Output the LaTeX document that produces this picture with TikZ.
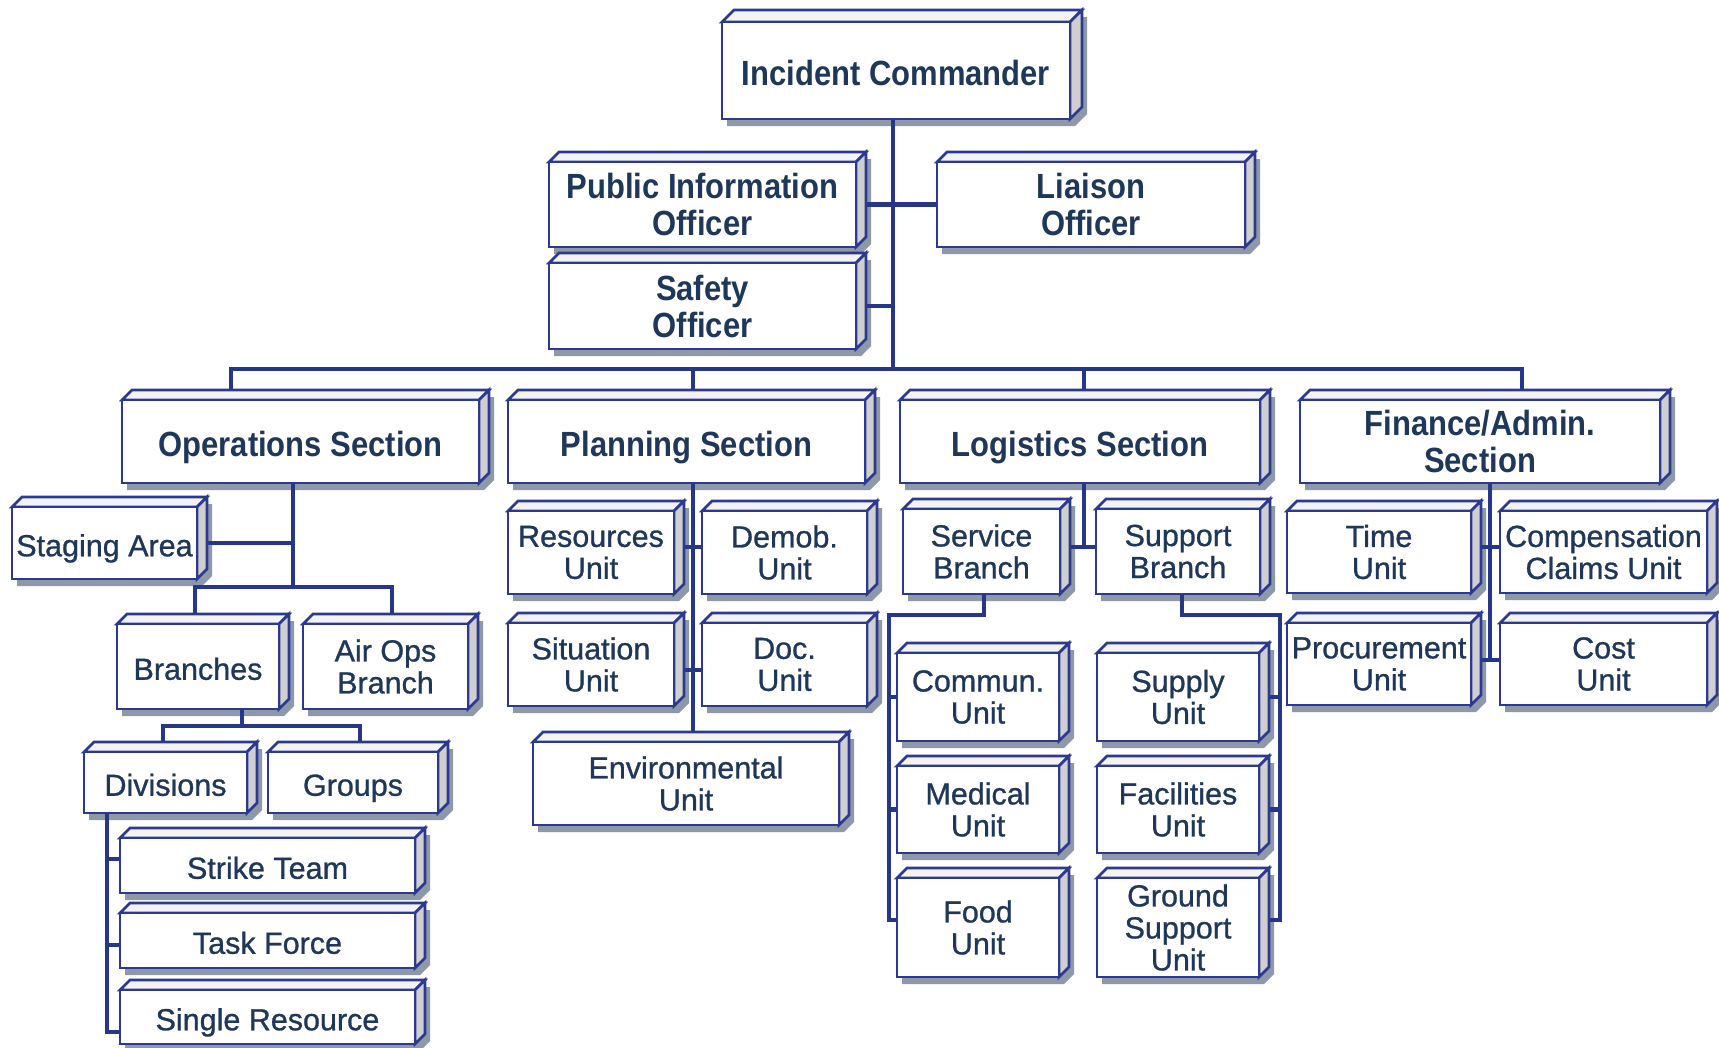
\documentclass[tikz,border=0pt]{standalone}
\usepackage{fontspec}
\usetikzlibrary{calc}
\newfontfamily\bigf[FakeStretch=0.885]{Liberation Sans Bold}
\newfontfamily\smallf[FakeBold=0.9]{Liberation Sans}
\definecolor{navy}{HTML}{2B3990}
\definecolor{linec}{HTML}{26378A}
\definecolor{txt}{HTML}{1F3859}
\definecolor{topc}{HTML}{F3F3F5}
\definecolor{sidec}{HTML}{CFCFCF}
\definecolor{shadc}{HTML}{8D98A9}
\pgfdeclarelayer{shadowlayer}
\pgfdeclarelayer{connlayer}
\pgfsetlayers{shadowlayer,connlayer,main}
\tikzset{
  boxline/.style={draw=navy, line width=2.6pt, line join=miter},
  topface/.style={boxline, fill=topc},
  sideface/.style={boxline, fill=sidec},
  frontbox/.style={boxline, fill=white, rectangle, inner sep=0pt, outer sep=0pt, text=txt, align=center},
  bigtext/.style={font=\bigf\fontsize{35}{37}\selectfont},
  smalltext/.style={font=\smallf\fontsize{30.5}{32}\selectfont},
  onebig/.style={bigtext, text height=33pt, text depth=3pt},
  onesmall/.style={smalltext, text height=29.5pt, text depth=3pt},
  conn/.style={draw=linec, line width=4.2pt},
}
% #1 depth, #2 name, #3 x1, #4 y1, #5 x2, #6 y2, #7 style, #8 text
\newcommand\isobox[8][10]{%
  \begin{pgfonlayer}{shadowlayer}
    \fill[shadc] ({#3+5},{#6+7}) -- ({#3+5},{#4+7}) -- ({#3+#1+5},{#4-#1+7}) -- ({#5+#1+5},{#4-#1+7}) -- ({#5+#1+5},{#6-#1+7}) -- ({#5+5},{#6+7}) -- cycle;
  \end{pgfonlayer}
  \path[topface] (#3,#4) -- ({#3+#1},{#4-#1}) -- ({#5+#1},{#4-#1}) -- (#5,#4) -- cycle;
  \path[sideface] (#5,#4) -- ({#5+#1},{#4-#1}) -- ({#5+#1},{#6-#1}) -- (#5,#6) -- cycle;
  \pgfmathsetmacro\cw{#5-#3}\pgfmathsetmacro\ch{#6-#4}%
  \node[frontbox,#7,minimum width=\cw pt,minimum height=\ch pt] (#2) at ({(#3+#5)/2},{(#4+#6)/2}) {#8};
}
\begin{document}
\begin{tikzpicture}[x=1pt,y=-1pt]
\useasboundingbox (0,0) rectangle (1719,1047);
\begin{pgfonlayer}{shadowlayer}
  \fill[white] (0,0) rectangle (1719,1047);
\end{pgfonlayer}

% top
\isobox[12]{ic}{722}{22}{1070}{119}{onebig}{Incident Commander}
\isobox{pio}{549}{162}{856}{247}{bigtext}{Public Information\\Officer}
\isobox{lia}{937}{162}{1245}{247}{bigtext}{Liaison\\Officer}
\isobox{saf}{549}{263}{856}{349}{bigtext}{Safety\\Officer}
% sections
\isobox{ops}{122}{400}{479}{483}{onebig}{Operations Section}
\isobox{pln}{508}{400}{865}{483}{onebig}{Planning Section}
\isobox{log}{900}{400}{1260}{483}{onebig}{Logistics Section}
\isobox{fin}{1300}{400}{1660}{483}{bigtext}{Finance/Admin.\\Section}
% operations
\isobox{stg}{12}{507}{197}{579}{onesmall}{Staging Area}
\isobox{brn}{117}{624}{279}{709}{onesmall}{Branches}
\isobox{air}{303}{624}{468}{709}{smalltext}{Air Ops\\Branch}
\isobox{div}{84}{752}{247}{813}{onesmall}{Divisions}
\isobox{grp}{268}{752}{438}{813}{onesmall}{Groups}
\isobox{stk}{120}{838}{415}{893}{onesmall}{Strike Team}
\isobox{tsk}{120}{913}{415}{968}{onesmall}{Task Force}
\isobox{sgl}{120}{990}{415}{1044}{onesmall}{Single Resource}
% planning
\isobox{res}{508}{511}{674}{594}{smalltext}{Resources\\Unit}
\isobox{dem}{702}{511}{867}{594}{smalltext}{Demob.\\Unit}
\isobox{sit}{508}{623}{674}{706}{smalltext}{Situation\\Unit}
\isobox{doc}{702}{623}{867}{706}{smalltext}{Doc.\\Unit}
\isobox{env}{533}{742}{839}{825}{smalltext}{Environmental\\Unit}
% logistics
\isobox{svc}{903}{509}{1060}{594}{smalltext}{Service\\Branch}
\isobox{sup}{1096}{509}{1260}{594}{smalltext}{Support\\Branch}
\isobox{com}{897}{653}{1059}{741}{smalltext}{Commun.\\Unit}
\isobox{med}{897}{766}{1059}{853}{smalltext}{Medical\\Unit}
\isobox{food}{897}{878}{1059}{977}{smalltext}{Food\\Unit}
\isobox{spl}{1097}{653}{1259}{741}{smalltext}{Supply\\Unit}
\isobox{fac}{1097}{766}{1259}{853}{smalltext}{Facilities\\Unit}
\isobox{gnd}{1097}{878}{1259}{977}{smalltext}{Ground\\Support\\Unit}
% finance
\isobox{time}{1287}{511}{1471}{593}{smalltext}{Time\\Unit}
\isobox{cmp}{1500}{511}{1707}{593}{smalltext}{Compensation\\Claims Unit}
\isobox{prc}{1287}{623}{1471}{705}{smalltext}{Procurement\\Unit}
\isobox{cost}{1500}{623}{1707}{705}{smalltext}{Cost\\Unit}

% junction coordinates
\coordinate (bus) at (893,369);
\coordinate (d1) at (231,369);
\coordinate (d2) at (693,369);
\coordinate (d3) at (1084,369);
\coordinate (d4) at (1522,369);
\coordinate (oj) at (293,587);
\coordinate (oa1) at (195,587);
\coordinate (oa2) at (392,587);
\coordinate (bj) at (242,726);
\coordinate (ba1) at (163,726);
\coordinate (ba2) at (360,726);
\coordinate (vj) at (107,1032);
\coordinate (s1) at (107,859);
\coordinate (s2) at (107,945);
\coordinate (p1) at (693,547);
\coordinate (p2) at (693,670);
\coordinate (lj) at (1084,547);
\coordinate (sv1) at (984,615);
\coordinate (sv2) at (889,920);
\coordinate (su1) at (1182,615);
\coordinate (su2) at (1280,920);
\coordinate (f1) at (1490,547);
\coordinate (fj) at (1490,660);

\begin{pgfonlayer}{connlayer}
  \draw[conn] (ic.south -| bus) -- (bus);
  \draw[conn] (pio.east) -- (lia.west);
  \draw[conn] (saf.east) -- (saf.east -| bus);
  \draw[conn] (d1 |- ops.center) -- (d1) -- (d4) -- (d4 |- fin.center);
  \draw[conn] (d2) -- (d2 |- pln.center);
  \draw[conn] (d3) -- (d3 |- log.center);
  % operations
  \draw[conn] (oj |- ops.center) -- (oj);
  \draw[conn] (stg.center) -- (stg.center -| oj);
  \draw[conn] (oa1 |- brn.center) -- (oa1) -- (oa2) -- (oa2 |- air.center);
  \draw[conn] (bj |- brn.center) -- (bj);
  \draw[conn] (ba1 |- div.center) -- (ba1) -- (ba2) -- (ba2 |- grp.center);
  \draw[conn] (vj |- div.center) -- (vj) -- (vj -| sgl.center);
  \draw[conn] (s1) -- (s1 -| stk.center);
  \draw[conn] (s2) -- (s2 -| tsk.center);
  % planning
  \draw[conn] (d2 |- pln.center) -- (d2 |- env.center);
  \draw[conn] (res.center |- p1) -- (dem.center |- p1);
  \draw[conn] (sit.center |- p2) -- (doc.center |- p2);
  % logistics
  \draw[conn] (d3 |- log.center) -- (lj);
  \draw[conn] (svc.center |- lj) -- (sup.center |- lj);
  \draw[conn] (sv1 |- svc.center) -- (sv1) -| (sv2) -- (sv2 -| food.center);
  \draw[conn] (sv2 |- com.center) -- (com.center);
  \draw[conn] (sv2 |- med.center) -- (med.center);
  \draw[conn] (su1 |- sup.center) -- (su1) -| (su2) -- (su2 -| gnd.center);
  \draw[conn] (su2 |- spl.center) -- (spl.center);
  \draw[conn] (su2 |- fac.center) -- (fac.center);
  % finance
  \draw[conn] (fj |- fin.center) -- (fj);
  \draw[conn] (time.center |- f1) -- (cmp.center |- f1);
  \draw[conn] (prc.center |- fj) -- (cost.center |- fj);
\end{pgfonlayer}
\end{tikzpicture}
\end{document}
